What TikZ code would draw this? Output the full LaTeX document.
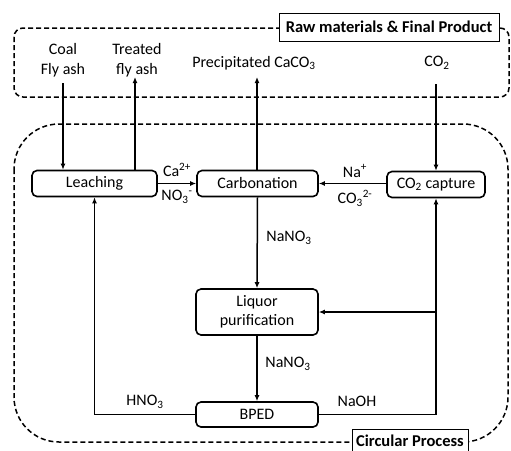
\documentclass[tikz,border=0pt]{standalone}
\usepackage{fontspec}
\setmainfont{Carlito}
\usetikzlibrary{arrows.meta}
\begin{document}
\begin{tikzpicture}[x=1pt,y=-1pt,
  font=\fontsize{16}{18}\selectfont,
  proc/.style={draw,line width=1.6pt,rounded corners=5pt,minimum height=26pt,inner sep=0pt},
  flow/.style={line width=1.5pt,-{Latex[length=6pt,width=5pt]}},
  zone/.style={draw,line width=1.5pt,dash pattern=on 5pt off 3pt},
  tagbox/.style={draw,fill=white,line width=0.9pt},
  tagtext/.style={font=\fontsize{16.5}{18}\selectfont\bfseries,inner sep=0pt}
]
\useasboundingbox (0,0) rectangle (511,450);
% zones
\draw[zone,rounded corners=9pt] (14,28) rectangle (509,97);
\draw[zone,rounded corners=45pt] (14,124) rectangle (508,442);
\draw[tagbox] (279,13) rectangle (499,41);
\node[tagtext] (rawtag) at (389,27) {Raw materials \& Final Product};
\draw[tagbox] (352,429) rectangle (468,462);
\node[tagtext] (circtag) at (410,441) {Circular Process};

% process boxes
\node[proc,minimum width=125pt] (leach) at (94.5,183.5) {Leaching};
\node[proc,minimum width=121pt] (carb) at (257.5,183.5) {Carbonation};
\node[proc,minimum width=98pt] (capt) at (436,184.5) {CO\textsubscript{2} capture};
\node[proc,minimum width=122pt,minimum height=46pt,align=center,font=\fontsize{16}{19}\selectfont] (liq) at (257,312) {Liquor\\purification};
\node[proc,minimum width=122pt,minimum height=25pt] (bped) at (257,414.5) {BPED};

% raw materials text
\node[align=center,font=\fontsize{16}{20}\selectfont] (coal) at (63,60) {Coal\\Fly ash};
\node[align=center,font=\fontsize{16}{20}\selectfont] (treat) at (137,60) {Treated\\fly ash};
\node (pcc) at (254,63) {Precipitated CaCO\textsubscript{3}};
\node (co2) at (437,63) {CO\textsubscript{2}};

\coordinate (coalS) at (63,83);
\coordinate (treatS) at (135,77);
\coordinate (pccS) at (257,77);
\coordinate (co2S) at (436,84);

\draw[flow] (coalS) -- (coalS |- leach.north);
\draw[flow] (treatS |- leach.north) -- (treatS);
\draw[flow] (carb.north -| pccS) -- (pccS);
\draw[flow] (co2S) -- (capt.north -| co2S);

% horizontal flows
\draw[flow] (leach.east) -- (carb.west);
\node (ca) at (177,170) {Ca\textsuperscript{2+}};
\node (no3) at (177,197) {NO\textsubscript{3}\textsuperscript{-}};
\draw[flow] (capt.west |- carb.east) -- (carb.east);
\node (na) at (355,171) {Na\textsuperscript{+}};
\node (co3) at (355,198) {CO\textsubscript{3}\textsuperscript{2-}};

% vertical flows
\draw[flow] (carb.south) -- (liq.north);
\node (n1) at (289,238) {NaNO\textsubscript{3}};
\draw[flow] (liq.south) -- (bped.north);
\node (n2) at (288,364) {NaNO\textsubscript{3}};

% return loops
\coordinate (lc) at (94.5,414.5);
\coordinate (rc) at (436,414.5);
\coordinate (rm) at (436,312);
\draw[flow] (bped.west) -- (lc) -- (leach.south);
\node (hno3) at (145,402) {HNO\textsubscript{3}};
\draw[flow] (bped.east) -- (rc) -- (capt.south -| rc);
\draw[flow] (rm) -- (liq.east);
\node (naoh) at (357,401) {NaOH};
\end{tikzpicture}
\end{document}
